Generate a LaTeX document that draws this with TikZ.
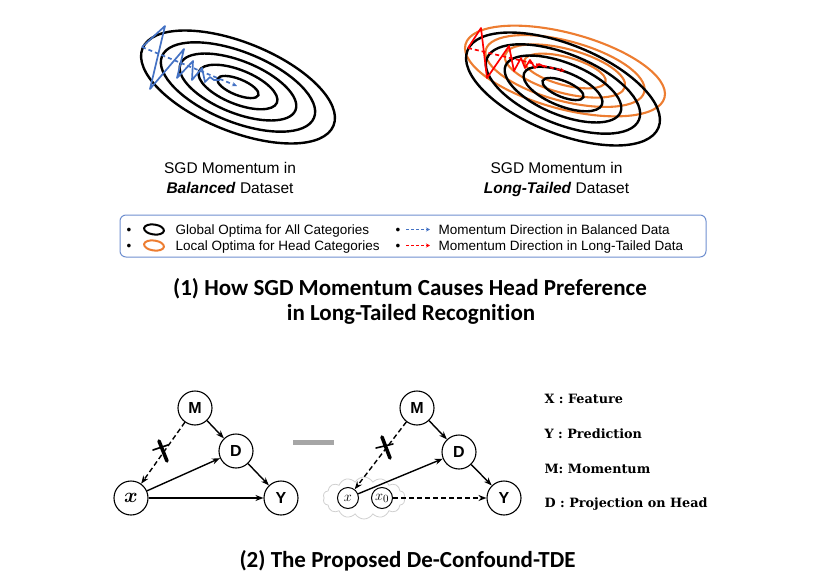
\documentclass[tikz,border=0pt]{standalone}
\usepackage{amsmath}
\usepackage{fontspec}
\setmainfont{Liberation Sans}
\newfontfamily\titlefont[Ligatures={NoCommon}]{Carlito}
\newfontfamily\labfont{DejaVu Serif}
\usetikzlibrary{arrows.meta,shapes.symbols}
\definecolor{myblue}{HTML}{4472C4}
\definecolor{myorange}{HTML}{ED7D31}
\definecolor{myred}{HTML}{FF0000}
\definecolor{legborder}{HTML}{6F8FCF}
\definecolor{cloudgray}{HTML}{D0D0D0}
\begin{document}
\begin{tikzpicture}[x=1pt,y=-1pt,
  ell/.style={line width=2.4pt, black},
  oell/.style={line width=2.1pt, myorange},
  zz/.style={line width=1.7pt, line join=round},
  dz/.style={line width=1.7pt, dash pattern=on 4pt off 3pt, -{Stealth[length=5pt,width=4.5pt]}},
  captext/.style={anchor=base, font=\fontsize{15.5}{18}\selectfont},
  legtext/.style={anchor=base west, font=\fontsize{13.5}{15}\selectfont},
  bul/.style={anchor=base, font=\fontsize{13.5}{15}\selectfont},
  ttl/.style={anchor=base, font=\titlefont\bfseries\fontsize{23}{26}\selectfont},
  gnode/.style={circle, draw, line width=1.1pt, fill=white, minimum size=34pt, inner sep=0pt, font=\fontsize{16}{16}\selectfont\bfseries},
  snode/.style={circle, draw, line width=1pt, fill=white, minimum size=21pt, inner sep=0pt, font=\fontsize{15}{15}\selectfont},
  arr/.style={-{Stealth[length=8pt,width=6pt]}, line width=1.4pt},
  darr/.style={arr, dash pattern=on 5pt off 3pt},
  lab/.style={anchor=base west, font=\labfont\bfseries\fontsize{12.8}{15}\selectfont},
  xmark/.style={line width=3.6pt, line cap=round},
  xmarkthin/.style={line width=1.6pt, line cap=round},
]
\useasboundingbox (0,0) rectangle (823,581);

% ---------- left contour plot ----------
\foreach \a/\b in {22/8,42/17,62/26,82/35,103/44.5}
  \draw[ell, rotate around={-22:(238,87)}] (238,87) ellipse [x radius=\a, y radius=\b];
\draw[zz, myblue] (142,47) -- (165,26) -- (150,89) -- (184,49) -- (177,78) -- (193,61) -- (192,80) -- (202,68) -- (205,82) -- (210,77) -- (214,80) -- (220,80);
\draw[dz, myblue] (142,47) -- (237,86);

% ---------- right contour plot ----------
\foreach \a/\b in {42/14,62/22,82/30,103/38}
  \draw[oell, rotate around={-15:(565,71)}] (565,71) ellipse [x radius=\a, y radius=\b];
\foreach \a/\b in {22/8,42/17,62/26,82/35,103/44.5}
  \draw[ell, rotate around={-22:(563,89)}] (563,89) ellipse [x radius=\a, y radius=\b];
\draw[zz, myred] (468,48) -- (481,28) -- (487,78) -- (509,46) -- (514,71) -- (521,58) -- (525,68) -- (530,60) -- (535,68) -- (539,64) -- (545,67);
\draw[dz, myred] (468,48) -- (565,71);

% ---------- captions ----------
\node[captext] (capL1) at (230,173) {SGD Momentum in};
\node[captext] (capL2) at (230,193) {\textbf{\textit{Balanced}} Dataset};
\node[captext] (capR1) at (556.5,173) {SGD Momentum in};
\node[captext] (capR2) at (556.5,193) {\textbf{\textit{Long-Tailed}} Dataset};

% ---------- legend ----------
\node[draw=legborder, line width=1pt, rounded corners=6pt, minimum width=586pt, minimum height=42pt] (legend) at (413,236) {};
\node[bul] (b1) at (129,234) {•};
\node[bul] (b2) at (129,250) {•};
\draw[line width=2pt, black, rotate around={-8:(154,229.5)}] (154,229.5) ellipse [x radius=10, y radius=5];
\draw[line width=2pt, myorange, rotate around={-8:(154,245.5)}] (154,245.5) ellipse [x radius=10, y radius=5];
\node[legtext] (t1) at (172,234) {Global Optima for All Categories};
\node[legtext] (t2) at (172,250) {Local Optima for Head Categories};
\node[bul] (b3) at (398,234) {•};
\node[bul] (b4) at (398,250) {•};
\coordinate (a1s) at (406,229.5); \coordinate (a1e) at (430,229.5);
\coordinate (a2s) at (406,245.5); \coordinate (a2e) at (430,245.5);
\draw[myblue, line width=1.2pt, dash pattern=on 3pt off 2pt, -{Stealth[length=4pt,width=4pt]}] (a1s) -- (a1e);
\draw[myred, line width=1.2pt, dash pattern=on 3pt off 2pt, -{Stealth[length=4pt,width=4pt]}] (a2s) -- (a2e);
\node[legtext] (t3) at (435,234) {Momentum Direction in Balanced Data};
\node[legtext] (t4) at (435,250) {Momentum Direction in Long-Tailed Data};

% ---------- titles ----------
\node[ttl] (title1a) at (410,295) {(1) How SGD Momentum Causes Head Preference};
\node[ttl] (title1b) at (411,320) {in Long-Tailed Recognition};
\node[ttl] (title2) at (407.5,567) {(2) The Proposed De-Confound-TDE};

% ---------- left causal graph ----------
\node[gnode] (M1) at (195,408) {M};
\node[gnode] (D1) at (236,451) {D};
\node[gnode] (X1) at (131,498) {\fontsize{21}{21}\selectfont$\boldsymbol{x}$};
\node[gnode] (Y1) at (281,498) {Y};
\draw[arr] (M1) -- (D1);
\draw[arr] (X1) -- (D1);
\draw[arr] (X1) -- (Y1);
\draw[arr] (D1) -- (Y1);
\draw[darr] (M1) -- (X1);
\draw[xmark] (159,441) -- (167,461);
\draw[xmarkthin] (153,450) -- (168,445);

% ---------- minus ----------
\draw[line width=5pt, gray!70] (293,442) -- (334,442);

% ---------- right causal graph ----------
\node[cloud, cloud puffs=14, cloud puff arc=120, aspect=2.1, draw=cloudgray, line width=0.8pt, fill=white, minimum width=82pt, minimum height=42pt, inner sep=0pt] (cloud) at (364,498) {};
\node[gnode] (M2) at (417,408) {M};
\node[gnode] (D2) at (459,452) {D};
\node[gnode] (Y2) at (504,498) {Y};
\node[snode] (X2) at (348,498) {$x$};
\node[snode] (X0) at (382,498) {$x_0$};
\draw[arr] (M2) -- (D2);
\draw[arr] (X2) -- (D2);
\draw[arr] (D2) -- (Y2);
\draw[darr] (M2) -- (X2);
\draw[darr] (X0) -- (Y2);
\draw[xmark] (382,437) -- (390,458);
\draw[xmarkthin] (376,448) -- (393,444);

% ---------- labels ----------
\node[lab] (lx) at (541,403) {X : Feature};
\node[lab] (ly) at (541,438) {Y : Prediction};
\node[lab] (lm) at (541,473) {M:\ Momentum};
\node[lab] (ld) at (541,507) {D : Projection on Head};
\end{tikzpicture}
\end{document}
